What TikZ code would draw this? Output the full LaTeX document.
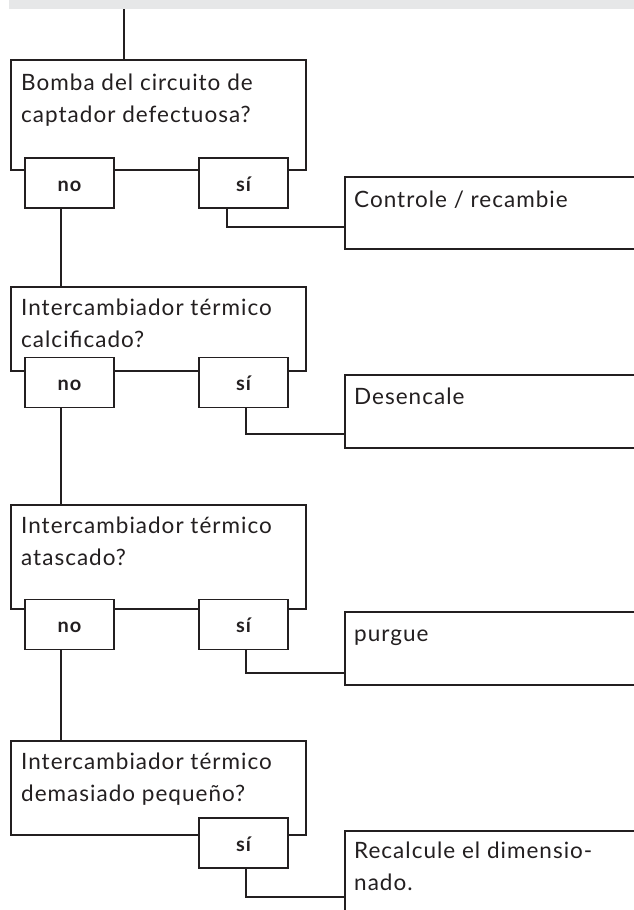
\documentclass[tikz,border=0pt]{standalone}
\usepackage{fontspec}
\setmainfont{Lato}[LetterSpace=4.5]
\usetikzlibrary{calc}
\definecolor{ink}{HTML}{231F20}
\definecolor{bandgrey}{HTML}{E6E7E8}
\begin{document}
\begin{tikzpicture}[x=1pt,y=-1pt,
  conn/.style={draw=ink, line width=1.5pt},
  qbox/.style={draw=ink, line width=1.5pt, fill=white, rectangle, inner sep=0pt, anchor=north west, minimum width=295pt},
  abox/.style={draw=ink, line width=1.5pt, fill=white, rectangle, inner sep=0pt, anchor=north west, minimum width=320pt},
  ans/.style={draw=ink, line width=1.5pt, fill=white, rectangle, inner sep=0pt, minimum width=89pt, minimum height=50pt,
     text height=16pt, text depth=0pt, font=\bfseries\fontsize{20}{22}\selectfont, text=ink},
  qtext/.style={anchor=north west, inner sep=0pt, align=left, font=\fontsize{22.5}{32}\selectfont, text=ink}
]
\useasboundingbox (0,0) rectangle (634,910);
\clip (0,0) rectangle (634,910);
\node[fill=bandgrey, inner sep=0pt, anchor=north west, minimum width=640pt, minimum height=14pt] (band) at (9,-5) {};

% block 1
\node[qbox, minimum height=110pt] (q1) at (10,59) {};
\node[qtext] (q1t) at (21,72) {\rule{0pt}{18pt}Bomba del circuito de\\captador defectuosa?};
\node[ans] (n1) at (69.5,183) {no};
\node[ans] (s1) at (243.5,183) {sí};
\node[abox, minimum height=72pt] (a1) at (344,176) {};
\node[qtext] (a1t) at (354,189) {\rule{0pt}{18pt}Controle / recambie};

% block 2
\node[qbox, minimum height=84pt] (q2) at (10,286) {};
\node[qtext] (q2t) at (21,297) {\rule{0pt}{18pt}Intercambiador térmico\\calcificado?};
\node[ans] (n2) at (69.5,382.5) {no};
\node[ans] (s2) at (243.5,382.5) {sí};
\node[abox, minimum height=73pt] (a2) at (344,374) {};
\node[qtext] (a2t) at (354,386) {\rule{0pt}{18pt}Desencale};

% block 3
\node[qbox, minimum height=104pt] (q3) at (10,504) {};
\node[qtext] (q3t) at (21,515) {\rule{0pt}{18pt}Intercambiador térmico\\atascado?};
\node[ans] (n3) at (69.5,624.5) {no};
\node[ans] (s3) at (243.5,624.5) {sí};
\node[abox, minimum height=73pt] (a3) at (344,611) {};
\node[qtext] (a3t) at (354,623) {\rule{0pt}{18pt}purgue};

% block 4
\node[qbox, minimum height=94pt] (q4) at (10,740) {};
\node[qtext] (q4t) at (21,751) {\rule{0pt}{18pt}Intercambiador térmico\\demasiado pequeño?};
\node[ans] (s4) at (243.5,843) {sí};
\node[abox, minimum height=120pt] (a4) at (344,830) {};
\node[qtext] (a4t) at (354,840) {\rule{0pt}{18pt}Recalcule el dimensio-\\nado.};

% connectors
\coordinate (e0) at ($(q1.north west)+(114,0)$);
\draw[conn] (band.south -| e0) -- (e0);

\draw[conn] ([xshift=-8.5pt]n1.south) -- ([xshift=-8.5pt]n1.south |- q2.north);
\draw[conn] ([xshift=-8.5pt]n2.south) -- ([xshift=-8.5pt]n2.south |- q3.north);
\draw[conn] ([xshift=-8.5pt]n3.south) -- ([xshift=-8.5pt]n3.south |- q4.north);

\coordinate (j1) at ($(a1.north west)+(0,51)$);
\coordinate (j2) at ($(a2.north west)+(0,60)$);
\coordinate (j3) at ($(a3.north west)+(0,62)$);
\coordinate (j4) at ($(a4.north west)+(0,67)$);
\draw[conn] ([xshift=-16.5pt]s1.south) |- (j1);
\draw[conn] ([xshift=2.5pt]s2.south) |- (j2);
\draw[conn] ([xshift=2.5pt]s3.south) |- (j3);
\draw[conn] ([xshift=2.5pt]s4.south) |- (j4);
\end{tikzpicture}
\end{document}
